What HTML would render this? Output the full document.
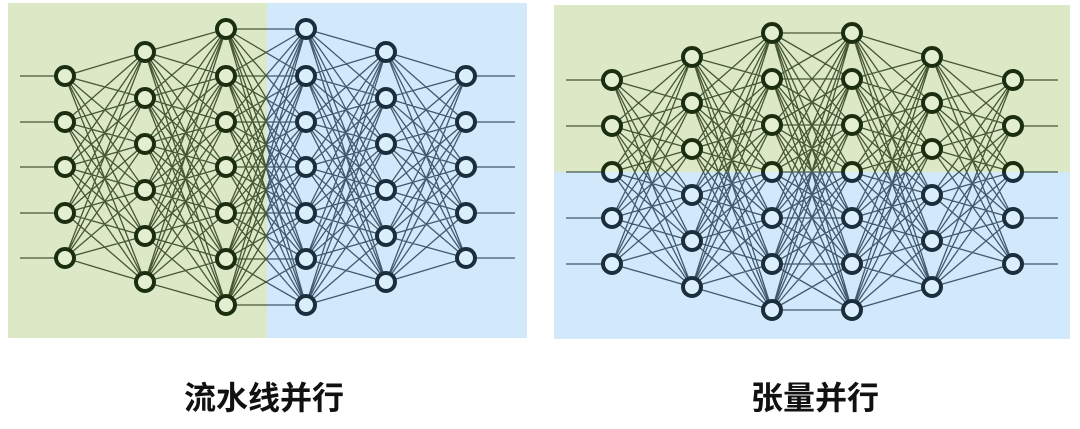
<!DOCTYPE html>
<html><head><meta charset="utf-8"><style>
html,body{margin:0;padding:0;background:#fff;width:1080px;height:429px;overflow:hidden}
svg{position:absolute;left:0;top:0}
.lbl{position:absolute;top:379px;font:bold 32px/38px "Liberation Sans","Noto Sans CJK SC",sans-serif;color:#111;text-align:center;width:300px}
</style></head><body>
<svg id="s" width="1080" height="429" xmlns="http://www.w3.org/2000/svg">
<defs>
<clipPath id="cLg"><rect x="8" y="3" width="259" height="335"/></clipPath>
<clipPath id="cLb"><rect x="267" y="3" width="260" height="335"/></clipPath>
<clipPath id="cRg"><rect x="554" y="5" width="516" height="167"/></clipPath>
<clipPath id="cRb"><rect x="554" y="172" width="516" height="167"/></clipPath>
</defs>
<rect x="8" y="3" width="259" height="335" fill="#dde9c6"/>
<rect x="267" y="3" width="260" height="335" fill="#d2e9fb"/>
<rect x="554" y="5" width="516" height="167" fill="#dde9c6"/>
<rect x="554" y="172" width="516" height="167" fill="#d2e9fb"/>
<g id="net"></g>
</svg>
<div class="lbl" style="left:114px">流水线并行</div>
<div class="lbl" style="left:665px">张量并行</div>
<script>
var NS="http://www.w3.org/2000/svg",g=document.getElementById('net');
function build(xs,ys,inX,outX){
  var cols=[];
  var counts=[5,6,7,7,6,5];
  for(var i=0;i<6;i++){var n=counts[i],arr=[];
    var list=n==5?ys[0]:n==6?ys[1]:ys[2];
    for(var j=0;j<n;j++)arr.push([xs[i],list[j]]);cols.push(arr);}
  return {cols:cols,inX:inX,outX:outX};
}
function draw(net,clip,lc,nc,bg){
  var grp=document.createElementNS(NS,'g');grp.setAttribute('clip-path','url(#'+clip+')');
  var d='';var c=net.cols;
  for(var i=0;i<5;i++)for(var a=0;a<c[i].length;a++)for(var b=0;b<c[i+1].length;b++)
    d+='M'+c[i][a][0]+' '+c[i][a][1]+'L'+c[i+1][b][0]+' '+c[i+1][b][1];
  c[0].forEach(function(p){d+='M'+net.inX+' '+p[1]+'L'+p[0]+' '+p[1];});
  c[5].forEach(function(p){d+='M'+p[0]+' '+p[1]+'L'+net.outX+' '+p[1];});
  var p=document.createElementNS(NS,'path');p.setAttribute('d',d);p.setAttribute('stroke',lc);
  p.setAttribute('stroke-width','1.3');p.setAttribute('fill','none');p.setAttribute('opacity','0.85');grp.appendChild(p);
  c.forEach(function(col){col.forEach(function(q){var ci=document.createElementNS(NS,'circle');
    ci.setAttribute('cx',q[0]);ci.setAttribute('cy',q[1]);ci.setAttribute('r','9');
    ci.setAttribute('fill',bg);ci.setAttribute('stroke',nc);ci.setAttribute('stroke-width','4');grp.appendChild(ci);});});
  g.appendChild(grp);
}
var L=build([65,145,226,306,386,466],[[76,122,167,213,258],[52,98,144,190,236,282],[29,76,122,167,213,259,305]],20,515);
draw(L,'cLg','#2b3d1c','#1c2e10','#e4efd0');
draw(L,'cLb','#2a4052','#1a2e3d','#dbeefc');
var R=build([612,692,772,852,932,1013],[[80,126,172,218,264],[57,103,149,195,241,287],[33,79,125,172,218,264,310]],566,1058);
draw(R,'cRg','#2b3d1c','#1c2e10','#e4efd0');
draw(R,'cRb','#2a4052','#1a2e3d','#dbeefc');
</script>
</body></html>
